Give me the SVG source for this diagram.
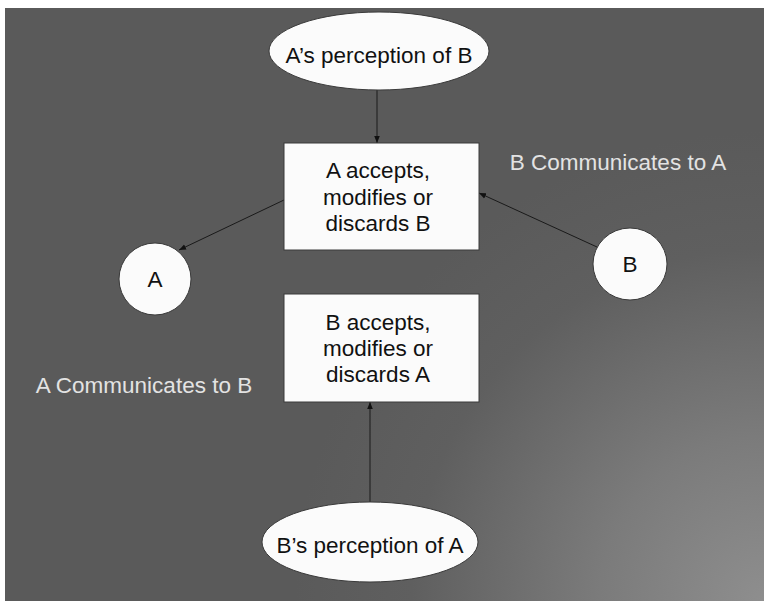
<svg xmlns="http://www.w3.org/2000/svg" width="764" height="601" viewBox="0 0 764 601">
  <style>
    .lbl { font-family: "Liberation Sans", Arial, sans-serif; font-size: 22.5px; fill: #111; text-anchor: middle; }
    .wlbl { font-family: "Liberation Sans", Arial, sans-serif; font-size: 22.5px; fill: #e3e3e3; text-anchor: middle; }
    .shape { fill: #fbfbfb; stroke: #3a3a3a; stroke-width: 1; }
    .conn { stroke: #1a1a1a; stroke-width: 1; fill: none; marker-end: url(#arr); }
  </style>
  <defs>
    <radialGradient id="bg" cx="764" cy="601" r="470" gradientUnits="userSpaceOnUse">
      <stop offset="0" stop-color="#8e8e8e"/>
      <stop offset="0.35" stop-color="#7b7b7b"/>
      <stop offset="0.75" stop-color="#5f5f5f"/>
      <stop offset="1" stop-color="#5a5a5a"/>
    </radialGradient>
    <marker id="arr" viewBox="0 0 10 10" refX="10" refY="5" markerWidth="7" markerHeight="7" orient="auto" markerUnits="userSpaceOnUse">
      <path d="M0,1 L10,5 L0,9 z" fill="#111"/>
    </marker>
  </defs>
  <rect width="764" height="601" fill="#ffffff"/>
  <rect x="5" y="8" width="759" height="593" fill="url(#bg)"/>

  <g id="connectors">
    <line class="conn" x1="377" y1="90" x2="377" y2="143"/>
    <line class="conn" x1="284" y1="200" x2="179" y2="250"/>
    <line class="conn" x1="597" y1="247" x2="479" y2="193"/>
    <line class="conn" x1="370" y1="502" x2="370" y2="402"/>
  </g>

  <g id="a-perception">
    <ellipse class="shape" cx="379" cy="51" rx="110" ry="39"/>
    <text class="lbl" x="379" y="63">A’s perception of B</text>
  </g>
  <g id="box-a">
    <rect class="shape" x="284" y="143" width="195" height="107"/>
    <text class="lbl" x="378" y="178">A accepts,</text>
    <text class="lbl" x="378" y="205">modifies or</text>
    <text class="lbl" x="378" y="231">discards B</text>
  </g>
  <g id="circle-a">
    <ellipse class="shape" cx="155" cy="279" rx="36" ry="36"/>
    <text class="lbl" x="155" y="287">A</text>
  </g>
  <g id="circle-b">
    <ellipse class="shape" cx="630" cy="264" rx="37" ry="36"/>
    <text class="lbl" x="630" y="272">B</text>
  </g>
  <g id="box-b">
    <rect class="shape" x="284" y="294" width="195" height="108"/>
    <text class="lbl" x="378" y="330">B accepts,</text>
    <text class="lbl" x="378" y="356">modifies or</text>
    <text class="lbl" x="378" y="382">discards A</text>
  </g>
  <g id="b-perception">
    <ellipse class="shape" cx="370" cy="542" rx="108" ry="40"/>
    <text class="lbl" x="370" y="553">B’s perception of A</text>
  </g>
  <g id="label-b-to-a">
    <text class="wlbl" x="618" y="170">B Communicates to A</text>
  </g>
  <g id="label-a-to-b">
    <text class="wlbl" x="144" y="393">A Communicates to B</text>
  </g>
</svg>
